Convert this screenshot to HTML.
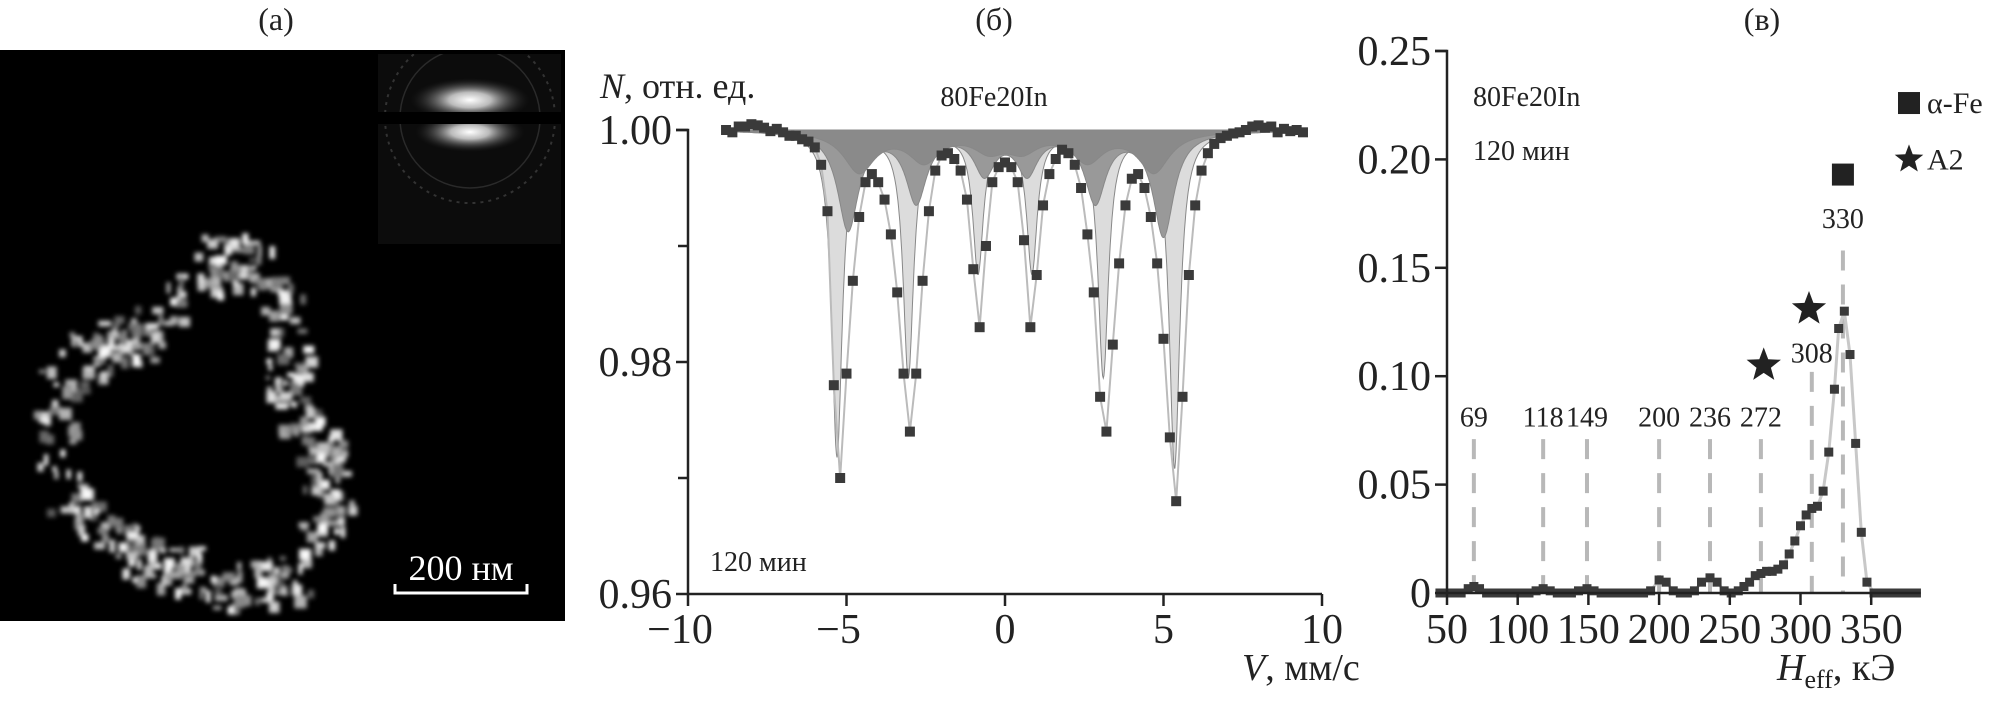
<!DOCTYPE html>
<html><head><meta charset="utf-8"><style>
html,body{margin:0;padding:0;background:#fff}
svg{display:block}
text{font-family:"Liberation Serif","DejaVu Serif",serif;fill:#222}
</style></head><body>
<svg id="fig" width="2012" height="715" viewBox="0 0 2012 715" xmlns="http://www.w3.org/2000/svg">
<defs>
<filter id="blur2"><feGaussianBlur stdDeviation="2.5"/></filter>
<radialGradient id="glow" cx="50%" cy="50%" r="50%"><stop offset="0" stop-color="#fff"/><stop offset="0.35" stop-color="#bbb"/><stop offset="1" stop-color="#222" stop-opacity="0"/></radialGradient>
<clipPath id="insetClip"><rect x="378" y="54" width="183" height="190"/></clipPath>
</defs>
<text x="276" y="30" font-size="32" text-anchor="middle">(a)</text>
<g>
<rect x="0" y="50" width="565" height="571" fill="#000"/>
<g id="speckles" filter="url(#blur2)"></g>
<g clip-path="url(#insetClip)">
<rect x="378" y="54" width="183" height="190" fill="#0c0c0c"/>
<ellipse cx="470" cy="100" rx="60" ry="22" fill="url(#glow)"/>
<ellipse cx="470" cy="132" rx="55" ry="20" fill="url(#glow)"/>
<circle cx="470" cy="118" r="85" fill="none" stroke="#333" stroke-width="2" stroke-dasharray="3 5"/>
<circle cx="470" cy="118" r="70" fill="none" stroke="#2a2a2a" stroke-width="1.5"/>
<rect x="378" y="112" width="183" height="12" fill="#000"/>
</g>
<g>
<path d="M395,584 V593 H527 V584" fill="none" stroke="#fff" stroke-width="3"/>
<text x="461" y="580" font-size="36" text-anchor="middle" style="fill:#fff">200 нм</text>
</g>
</g>
<g id="pb"></g>
<g id="pc"></g>
</svg>
<script>
const NS="http://www.w3.org/2000/svg";
function mk(parent,tag,attrs,txt){const e=document.createElementNS(NS,tag);for(const k in attrs)e.setAttribute(k,attrs[k]);if(txt!==undefined)e.textContent=txt;parent.appendChild(e);return e;}

(function(){
  let s=7;const rnd=()=>{s=(s*16807)%2147483647;return s/2147483647;};
  const g=document.getElementById('speckles');
  const outline=[[225,255],[265,275],[290,330],[285,380],[300,420],[330,470],[320,540],[280,580],[220,585],[160,560],[110,540],[70,500],[50,430],[60,380],[100,345],[140,335],[180,300],[210,260]];
  const weight=[1.2,0.8,0.8,1.2,1.8,1.4,1,1.4,1.8,1.6,1,0.7,0.7,1.2,1.4,0.9,0.6,1];
  for(let i=0;i<outline.length;i++){
    const a=outline[i],b=outline[(i+1)%outline.length];
    const n=Math.round(20*weight[i]);
    for(let k=0;k<n;k++){
      const t=rnd();const x=a[0]+(b[0]-a[0])*t+(rnd()-0.5)*45;const y=a[1]+(b[1]-a[1])*t+(rnd()-0.5)*45;
      const v=Math.floor(90+rnd()*165);
      const r=mk(g,'rect',{x:x,y:y,width:4+rnd()*9,height:4+rnd()*9,fill:`rgb(${v},${v},${v})`});
      
      
    }
  }
})();

const velocities=[-8.8,-8.6,-8.4,-8.2,-8.0,-7.8,-7.6,-7.4,-7.2,-7.0,-6.8,-6.6,-6.4,-6.2,-6.0,-5.8,-5.6,-5.4,-5.2,-5.0,-4.8,-4.6,-4.4,-4.2,-4.0,-3.8,-3.6,-3.4,-3.2,-3.0,-2.8,-2.6,-2.4,-2.2,-2.0,-1.8,-1.6,-1.4,-1.2,-1.0,-0.8,-0.6,-0.4,-0.2,0.0,0.2,0.4,0.6,0.8,1.0,1.2,1.4,1.6,1.8,2.0,2.2,2.4,2.6,2.8,3.0,3.2,3.4,3.6,3.8,4.0,4.2,4.4,4.6,4.8,5.0,5.2,5.4,5.6,5.8,6.0,6.2,6.4,6.6,6.8,7.0,7.2,7.4,7.6,7.8,8.0,8.2,8.4,8.6,8.8,9.0,9.2,9.4];
const counts=[1.0,0.9998,1.0003,1.0003,1.0005,1.0004,1.0002,0.9999,1.0001,0.9998,0.9995,0.9995,0.9992,0.999,0.9985,0.997,0.993,0.978,0.9700,0.979,0.987,0.9925,0.9955,0.9962,0.9955,0.994,0.991,0.986,0.979,0.9740,0.979,0.987,0.993,0.9965,0.9978,0.998,0.9975,0.9965,0.994,0.988,0.9830,0.990,0.9955,0.9968,0.9972,0.9968,0.9955,0.9905,0.9830,0.9875,0.9935,0.9962,0.9975,0.9983,0.998,0.997,0.995,0.991,0.986,0.977,0.9740,0.9815,0.9885,0.9935,0.9958,0.9962,0.995,0.9925,0.9885,0.982,0.9735,0.9680,0.977,0.9875,0.9935,0.9965,0.998,0.9988,0.9993,0.9995,0.9997,0.9998,1.0,1.0003,1.0004,1.0002,1.0003,0.9998,1.0001,0.9999,1.0,0.9998];
const compPositionsA=[-5.3,-3.05,-0.85,0.85,3.1,5.35];
const compDepthsA=[0.028,0.021,0.012,0.012,0.021,0.029];
const compPositionsB=[-4.95,-2.8,-0.65,0.7,2.85,5.0];
const compDepthsB=[0.0085,0.006,0.0035,0.0035,0.006,0.009];
const compPositionsC=[-4.6,-2.55,-0.5,0.55,2.6,4.7];
const compDepthsC=[0.0035,0.0025,0.0015,0.0015,0.0025,0.0035];
const vTicks=[-10,-5,0,5,10];
const nTicks=[1.00,0.98,0.96];
const nMinor=[0.99,0.97];

(function(){
  const g=document.getElementById('pb');
  const X=v=>1005+v*31.7, Y=n=>130+(1.00-n)/0.04*464;
  const lor=(v,pos,dep,w)=>{let s=0;for(let i=0;i<pos.length;i++){const d=(v-pos[i])/w;s+=dep[i]/(1+d*d);}return s;};
  function comp(pos,dep,w,fill,name){
    let d=`M${X(-8.8)},${Y(1)}`;
    for(let v=-8.8;v<=9.4;v+=0.02)d+=` L${X(v).toFixed(1)},${Y(1-lor(v,pos,dep,w)).toFixed(1)}`;
    d+=` L${X(9.4)},${Y(1)} Z`;
    const p=mk(g,'path',{d:d,fill:fill,stroke:'#888','stroke-width':1});
    
    
  }
  comp(compPositionsA,compDepthsA,0.2,'#dcdcdc','subspectrum-alpha-fe');
  comp(compPositionsB,compDepthsB,0.4,'#999','subspectrum-2');
  comp(compPositionsC,compDepthsC,0.6,'#8a8a8a','subspectrum-3');
  let d='';velocities.forEach((v,i)=>{d+=(i?' L':'M')+X(v)+','+Y(counts[i]);});
  const fit=mk(g,'path',{d:d,fill:'none',stroke:'#bbb','stroke-width':2});
  
  
  velocities.forEach((v,i)=>{
    const r=mk(g,'rect',{x:X(v)-5,y:Y(counts[i])-5,width:10,height:10,fill:'#3a3a3a'});
    
    
  });
  const ax=mk(g,'path',{d:`M${X(-10)-12},${Y(1)} H${X(-10)} V${Y(0.96)} H${X(10)}`,fill:'none',stroke:'#222','stroke-width':2.5});
  
  
  nTicks.forEach(n=>{
    mk(g,'line',{x1:X(-10)-12,x2:X(-10),y1:Y(n),y2:Y(n),stroke:'#222','stroke-width':2.5});
    const t=mk(g,'text',{x:X(-10)-16,y:Y(n)+14,'font-size':42,'text-anchor':'end'},n.toFixed(2));
    
    
  });
  nMinor.forEach(n=>mk(g,'line',{x1:X(-10)-10,x2:X(-10),y1:Y(n),y2:Y(n),stroke:'#222','stroke-width':2.5}));
  vTicks.forEach(v=>{
    mk(g,'line',{x1:X(v),x2:X(v),y1:Y(0.96),y2:Y(0.96)+12,stroke:'#222','stroke-width':2.5});
    const t=mk(g,'text',{x:X(v)-(v<0?8:0),y:643,'font-size':42,'text-anchor':'middle'},(v<0?'\u2212':'')+Math.abs(v));
    
    
  });
  const t1=mk(g,'text',{x:994,y:30,'font-size':32,'text-anchor':'middle'},'(б)');
  
  const t2=mk(g,'text',{x:600,y:98,'font-size':36});
  t2.innerHTML='<tspan font-style="italic">N</tspan>, отн. ед.';
  
  const t3=mk(g,'text',{x:994,y:106,'font-size':28,'text-anchor':'middle'},'80Fe20In');
  
  const t4=mk(g,'text',{x:710,y:571,'font-size':28},'120 мин');
  
  const t5=mk(g,'text',{x:1242,y:680,'font-size':38});
  t5.innerHTML='<tspan font-style="italic">V</tspan>, мм/с';
  
})();

const fieldH=[45,50,55,60,65,69,73,78,83,88,93,98,103,108,113,118,123,128,133,138,143,149,154,159,164,169,174,179,184,189,194,200,205,210,215,220,225,230,236,241,246,251,256,260,264,268,272,276,280,284,288,292,296,300,304,308,312,316,320,324,327,331,335,339,343,347,352,357,362,367,372,377,382];
const fieldP=[0,0,0,0,0.002,0.003,0.002,0,0,0,0,0,0,0,0.001,0.002,0.001,0,0,0,0.001,0.002,0.001,0,0,0,0,0,0,0,0.001,0.006,0.005,0.001,0,0,0.001,0.005,0.007,0.005,0.001,0,0.001,0.003,0.005,0.008,0.009,0.010,0.010,0.011,0.013,0.018,0.024,0.031,0.036,0.039,0.040,0.047,0.065,0.094,0.122,0.130,0.110,0.069,0.028,0.005,0,0,0,0,0,0,0];
const hTicks=[50,100,150,200,250,300,350];
const pTicks=[0,0.05,0.10,0.15,0.20,0.25];
const peakLabels=[69,118,149,200,236,272];
const peak308=308, peak330=330;
const starPoints=[[274,0.105],[306,0.131]];
const squarePoint=[330,0.193];

(function(){
  const g=document.getElementById('pc');
  const X=h=>1447+(h-50)*1.414, Y=p=>593-p/0.25*542;
  function dash(h,top,name){const l=mk(g,'line',{x1:X(h),x2:X(h),y1:Y(top),y2:Y(0),stroke:'#b8b8b8','stroke-width':4,'stroke-dasharray':'20 14'});
    }
  peakLabels.forEach(h=>{
    dash(h,0.071,'peak-marker-line');
    const t=mk(g,'text',{x:X(h),y:Y(0.0815)+10,'font-size':28,'text-anchor':'middle'},String(h));
    
  });
  dash(peak308,0.102,'peak-marker-line-308');
  dash(peak330,0.158,'peak-marker-line-330');
  const l308=mk(g,'text',{x:X(peak308),y:Y(0.111)+10,'font-size':28,'text-anchor':'middle'},'308');
  
  const l330=mk(g,'text',{x:X(peak330),y:Y(0.173)+10,'font-size':28,'text-anchor':'middle'},'330');
  
  let d='';fieldH.forEach((h,i)=>{d+=(i?' L':'M')+X(h)+','+Y(fieldP[i]);});
  const ln=mk(g,'path',{d:d,fill:'none',stroke:'#c8c8c8','stroke-width':3});
  
  fieldH.forEach((h,i)=>{
    const r=mk(g,'rect',{x:X(h)-4.5,y:Y(fieldP[i])-4.5,width:9,height:9,fill:'#3a3a3a'});
    
    
  });
  const ax=mk(g,'path',{d:`M${X(50)-12},${Y(0.25)} H${X(50)} V${Y(0)} H${X(385)}`,fill:'none',stroke:'#222','stroke-width':2.5});
  
  pTicks.forEach(p=>{
    mk(g,'line',{x1:X(50)-12,x2:X(50),y1:Y(p),y2:Y(p),stroke:'#222','stroke-width':2.5});
    const t=mk(g,'text',{x:X(50)-16,y:Y(p)+14,'font-size':42,'text-anchor':'end'},p===0?'0':p.toFixed(2));
    
  });
  hTicks.forEach(h=>{
    mk(g,'line',{x1:X(h),x2:X(h),y1:Y(0),y2:Y(0)+12,stroke:'#222','stroke-width':2.5});
    const t=mk(g,'text',{x:X(h),y:643,'font-size':42,'text-anchor':'middle'},String(h));
    
  });
  const starPath=(cx,cy,R)=>{let s='';for(let i=0;i<10;i++){const r=i%2?R*0.42:R;const a=-Math.PI/2+i*Math.PI/5;s+=(i?'L':'M')+(cx+r*Math.cos(a)).toFixed(1)+','+(cy+r*Math.sin(a)).toFixed(1);}return s+'Z';};
  starPoints.forEach(sp=>{
    const s=mk(g,'path',{d:starPath(X(sp[0]),Y(sp[1]),18),fill:'#222'});
    
  });
  const sq=mk(g,'rect',{x:X(squarePoint[0])-11,y:Y(squarePoint[1])-11,width:22,height:22,fill:'#222'});
  
  const lg=mk(g,'g',{});
  
  mk(lg,'rect',{x:1898,y:Y(0.226)-11,width:22,height:22,fill:'#222'});
  const la=mk(lg,'text',{x:1927,y:Y(0.226)+10,'font-size':30},'\u03b1-Fe');
  
  mk(lg,'path',{d:starPath(1909,Y(0.20),15),fill:'#222'});
  const lb=mk(lg,'text',{x:1927,y:Y(0.20)+10,'font-size':30},'A2');
  
  const t1=mk(g,'text',{x:1762,y:30,'font-size':32,'text-anchor':'middle'},'(в)');
  
  const t2=mk(g,'text',{x:1473,y:106,'font-size':28},'80Fe20In');
  
  const t3=mk(g,'text',{x:1473,y:160,'font-size':28},'120 мин');
  
  const t4=mk(g,'text',{x:1777,y:680,'font-size':38});
  t4.innerHTML='<tspan font-style="italic">H</tspan><tspan font-size="26" dy="8">eff</tspan><tspan dy="-8">, кЭ</tspan>';
  
})();
</script>
</body></html>
